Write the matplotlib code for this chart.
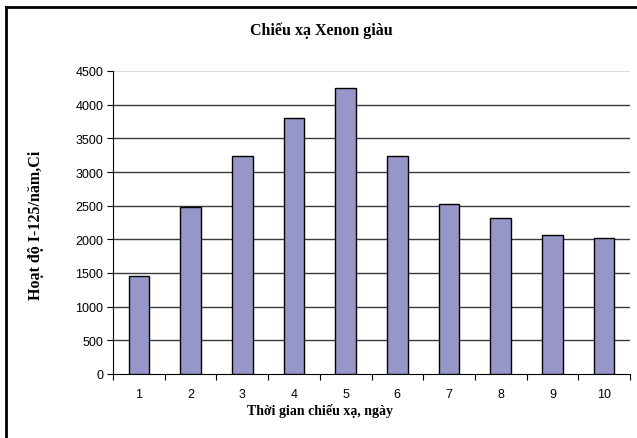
import matplotlib
matplotlib.use("Agg")
import matplotlib.pyplot as plt
from matplotlib.lines import Line2D

# data
days = [1, 2, 3, 4, 5, 6, 7, 8, 9, 10]
activity = [1455, 2475, 3235, 3800, 4250, 3235, 2525, 2320, 2070, 2025]
y_ticks = [0, 500, 1000, 1500, 2000, 2500, 3000, 3500, 4000, 4500]

title = "Chiếu xạ Xenon giàu"
x_label = "Thời gian chiếu xạ, ngày"
y_label = "Hoạt độ I-125/năm,Ci"

serif = ["Liberation Serif", "DejaVu Serif"]
sans = ["Liberation Sans", "DejaVu Sans"]

fig = plt.figure(figsize=(6.37, 4.39), dpi=100)
ax = fig.add_axes([113 / 637, 1 - 375 / 439, 517 / 637, 303 / 439])

# gridlines (top one lighter, like the original)
for v in y_ticks[1:-1]:
    ax.axhline(v, color="#3a3a3a", lw=1.0, zorder=1)
ax.axhline(y_ticks[-1], color="#d4d4d4", lw=1.2, zorder=1)

ax.bar(days, activity, width=0.4, color="#9696c8", edgecolor="black",
       linewidth=1.0, zorder=3)

ax.set_xlim(0.5, 10.5)
ax.set_ylim(0, 4500)
ax.set_yticks(y_ticks)
ax.set_xticks(days)
ax.set_xticks([d + 0.5 for d in [0] + days], minor=True)
ax.tick_params(axis="x", which="major", length=0, pad=10)
ax.tick_params(axis="x", which="minor", length=4, width=0.8, direction="out")
ax.tick_params(axis="y", length=4, width=0.8, pad=3)
for lab in ax.get_xticklabels() + ax.get_yticklabels():
    lab.set_family(sans)
    lab.set_fontsize(9)

for side in ["top", "right"]:
    ax.spines[side].set_visible(False)
ax.spines["left"].set_linewidth(0.8)
ax.spines["bottom"].set_linewidth(0.8)

fig.text(321 / 637, 1 - 31 / 439, title, ha="center", va="center",
         family=serif, fontweight="bold", fontsize=11.5)
fig.text(320 / 637, 1 - 411 / 439, x_label, ha="center", va="center",
         family=serif, fontweight="bold", fontsize=10)
fig.text(36 / 637, 1 - 225 / 439, y_label, ha="center", va="center",
         rotation=90, family=serif, fontweight="bold", fontsize=11.5)

# chart-area frame (only top and left edges are visible in the original)
fig.add_artist(Line2D([6 / 637, 6 / 637], [0, 1 - 8 / 439],
                      transform=fig.transFigure, color="black", lw=2))
fig.add_artist(Line2D([6 / 637, 1], [1 - 8 / 439, 1 - 8 / 439],
                      transform=fig.transFigure, color="black", lw=2))

fig.savefig("out.png", dpi=100)
plt.close(fig)
